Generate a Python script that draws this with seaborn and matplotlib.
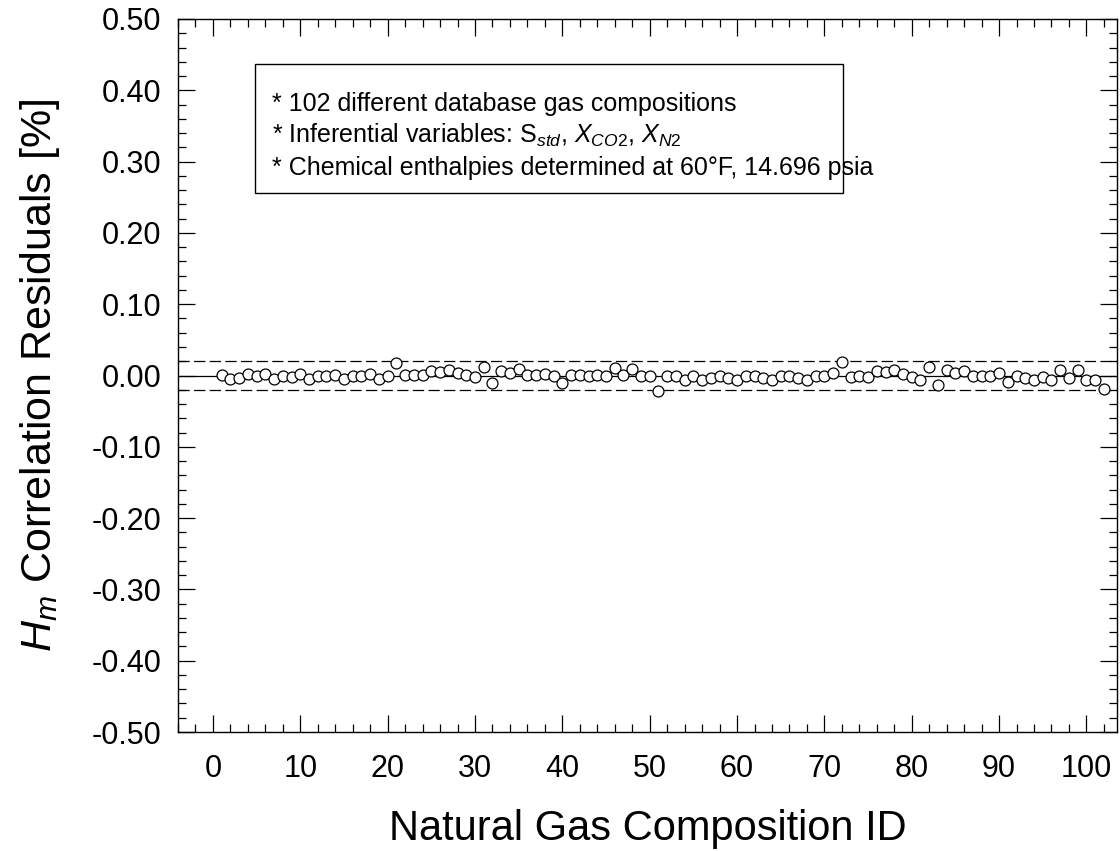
import numpy as np
import pandas as pd
import matplotlib
matplotlib.use("Agg")
import matplotlib.pyplot as plt
from matplotlib.ticker import MultipleLocator, FormatStrFormatter
from matplotlib.patches import Rectangle
import seaborn as sns

# ---------------- data ----------------
composition_id = list(range(1, 103))
residuals = [
    0.001, -0.005, -0.003, 0.002, 0.000, 0.002, -0.005, 0.000, -0.002, 0.002,
    -0.005, 0.000, -0.001, 0.001, -0.005, -0.001, -0.001, 0.002, -0.005, -0.001,
    0.018, 0.001, 0.001, 0.001, 0.007, 0.005, 0.008, 0.004, 0.001, -0.002,
    0.012, -0.010, 0.007, 0.004, 0.009, 0.001, 0.001, 0.002, 0.000, -0.011,
    0.001, 0.001, -0.001, 0.001, 0.000, 0.010, 0.001, 0.009, -0.001, -0.001,
    -0.022, -0.001, -0.001, -0.007, 0.000, -0.006, -0.003, -0.001, -0.003, -0.007,
    0.000, -0.001, -0.003, -0.006, 0.000, 0.000, -0.003, -0.006, -0.001, 0.000,
    0.004, 0.019, -0.002, -0.001, -0.002, 0.006, 0.005, 0.008, 0.002, -0.002,
    -0.007, 0.012, -0.013, 0.008, 0.004, 0.006, -0.001, -0.001, 0.000, 0.004,
    -0.009, -0.001, -0.003, -0.006, -0.002, -0.006, 0.008, -0.003, 0.008, -0.006,
    -0.006, -0.019,
]
band_limits = [-0.02, 0.02]
x_ticks = [0, 10, 20, 30, 40, 50, 60, 70, 80, 90, 100]
y_ticks = [-0.50, -0.40, -0.30, -0.20, -0.10, 0.00, 0.10, 0.20, 0.30, 0.40, 0.50]
note_lines = [
    "* 102 different database gas compositions",
    r"* Inferential variables: S$_{\mathit{std}}$, $X_{\mathit{CO2}}$, $X_{\mathit{N2}}$",
    "* Chemical enthalpies determined at 60°F, 14.696 psia",
]

df = pd.DataFrame({"id": composition_id, "res": residuals})

# ---------------- style ----------------
sns.set_theme(style="ticks")
plt.rcParams["font.family"] = ["Liberation Sans", "DejaVu Sans"]
plt.rcParams["mathtext.fontset"] = "custom"
plt.rcParams["mathtext.rm"] = "Liberation Sans"
plt.rcParams["mathtext.it"] = "Liberation Sans:italic"
plt.rcParams["mathtext.bf"] = "Liberation Sans:bold"
plt.rcParams["text.color"] = "black"
plt.rcParams["axes.labelcolor"] = "black"
plt.rcParams["xtick.color"] = "black"
plt.rcParams["ytick.color"] = "black"
plt.rcParams["xtick.labelcolor"] = "black"
plt.rcParams["ytick.labelcolor"] = "black"

fig = plt.figure(figsize=(11.2, 8.51), dpi=100)
ax = fig.add_axes([178 / 1120, 1 - 732 / 851, (1117 - 178) / 1120, (732 - 19) / 851])

ax.axhline(0, color="black", lw=0.9, zorder=1)
for b in band_limits:
    ax.axhline(b, color="black", lw=0.9, dashes=(9, 3.5), zorder=1)

sns.scatterplot(data=df, x="id", y="res", ax=ax, marker="o", s=62,
                facecolor="white", edgecolor="black", linewidth=0.9, zorder=3,
                legend=False)

ax.set_xlim(-4, 103.5)
ax.set_ylim(-0.5, 0.5)
ax.set_xticks(x_ticks)
ax.set_yticks(y_ticks)
ax.xaxis.set_minor_locator(MultipleLocator(2))
ax.yaxis.set_minor_locator(MultipleLocator(0.02))
ax.yaxis.set_major_formatter(FormatStrFormatter("%.2f"))

ax.tick_params(which="both", direction="in", top=True, right=True,
               color="black", width=0.9)
ax.tick_params(which="major", length=12, labelsize=22)
ax.tick_params(axis="y", which="major", pad=12)
ax.tick_params(axis="x", which="major", pad=16)
ax.tick_params(which="minor", length=6)
for s in ax.spines.values():
    s.set_visible(True)
    s.set_color("black")
    s.set_linewidth(1.0)

ax.set_xlabel("Natural Gas Composition ID", fontsize=30, color="black")
ax.set_ylabel(r"$H_m$ Correlation Residuals [%]", fontsize=31, color="black")
ax.xaxis.set_label_coords(0.5, (732 - 829) / 713)
ax.xaxis.label.set_va("center")
ax.yaxis.set_label_coords((40 - 178) / 939, 0.5)
ax.yaxis.label.set_va("center")

# note box
x0 = (255 - 178) / 939
x1 = (843 - 178) / 939
y1 = (732 - 64) / 713
y0 = (732 - 193) / 713
ax.add_patch(Rectangle((x0, y0), x1 - x0, y1 - y0, transform=ax.transAxes,
                       facecolor="white", edgecolor="black", lw=1.0, zorder=4))
line_y = [(732 - 102) / 713, (732 - 132) / 713, (732 - 166) / 713]
for txt, yy in zip(note_lines, line_y):
    ax.text((272 - 178) / 939, yy, txt, transform=ax.transAxes, fontsize=18,
            ha="left", va="center_baseline", zorder=5, color="black")

fig.savefig("out.png", dpi=100)
